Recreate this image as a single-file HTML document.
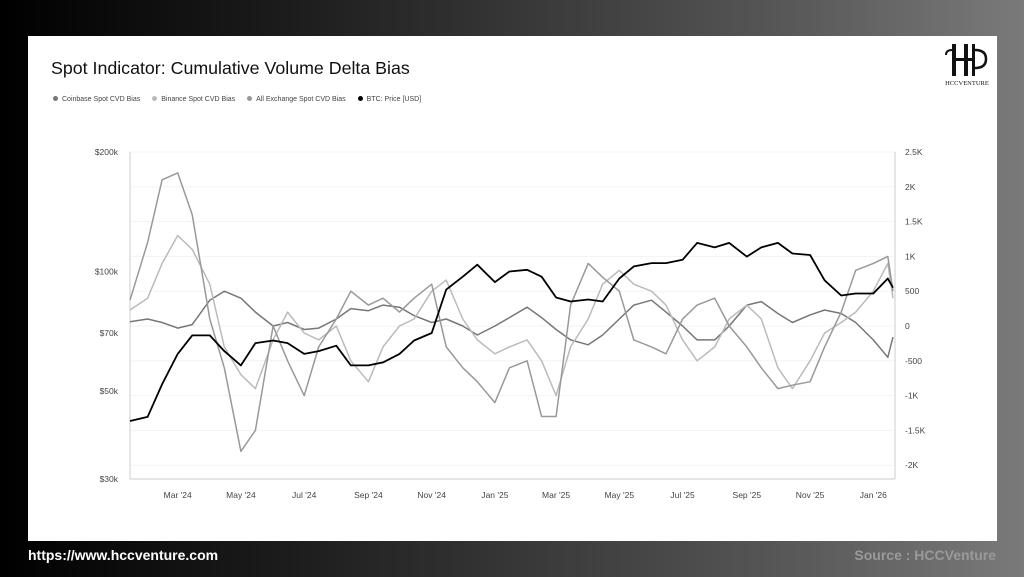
<!DOCTYPE html>
<html><head><meta charset="utf-8">
<style>
html,body{margin:0;padding:0;}
body{width:1024px;height:577px;overflow:hidden;background:linear-gradient(90deg,#000 0%,#1e1e1e 30%,#555 75%,#7a7a7a 100%);font-family:"Liberation Sans",sans-serif;position:relative;}
#card{position:absolute;left:28px;top:36px;width:969px;height:505px;background:#fff;}
#title{position:absolute;left:23px;top:22px;font-size:17.8px;color:#111;}
#legend{position:absolute;left:25px;top:60px;font-size:7px;color:#444;display:flex;gap:12px;}
#legend span i{display:inline-block;width:5px;height:5px;border-radius:50%;margin-right:4px;vertical-align:0px;}
#url{position:absolute;left:28px;top:547px;color:#fff;font-weight:bold;font-size:14px;}
#src{position:absolute;right:28px;top:547px;color:#9a9a9a;font-weight:bold;font-size:14px;}
#logo{position:absolute;left:914px;top:6px;width:50px;height:46px;}
</style></head><body>
<div id="card">
  <div id="title">Spot Indicator: Cumulative Volume Delta Bias</div>
  <div id="legend">
    <span><i style="background:#777"></i>Coinbase Spot CVD Bias</span>
    <span><i style="background:#bbb"></i>Binance Spot CVD Bias</span>
    <span><i style="background:#999"></i>All Exchange Spot CVD Bias</span>
    <span><i style="background:#000"></i>BTC: Price [USD]</span>
  </div>
  <svg id="logo" viewBox="0 0 50 46">
    <rect x="10" y="2" width="4" height="32" fill="#111"/>
    <rect x="22" y="2" width="4" height="32" fill="#111"/>
    <rect x="30" y="2" width="3" height="32" fill="#111"/>
    <rect x="10" y="16" width="23" height="3" fill="#111"/>
    <path d="M33 8 Q44 8 44 17 Q44 26 33 26" fill="none" stroke="#111" stroke-width="2.5"/>
    <path d="M10 8 Q4 8 4 13" fill="none" stroke="#111" stroke-width="2"/>
    <text x="25" y="43" font-size="6.5" text-anchor="middle" font-family="Liberation Serif, serif" fill="#111">HCCVENTURE</text>
  </svg>
</div>
<svg id="chart" width="1024" height="577" style="position:absolute;left:0;top:0"></svg>
<div id="url">https://www.hccventure.com</div>
<div id="src">Source : HCCVenture</div>
<script>
const dates = ["2024-01-15","2024-02-01","2024-02-15","2024-03-01","2024-03-15","2024-04-01","2024-04-15","2024-05-01","2024-05-15","2024-06-01","2024-06-15","2024-07-01","2024-07-15","2024-08-01","2024-08-15","2024-09-01","2024-09-15","2024-10-01","2024-10-15","2024-11-01","2024-11-15","2024-12-01","2024-12-15",
"2025-01-01","2025-01-15","2025-02-01","2025-02-15","2025-03-01","2025-03-15","2025-04-01","2025-04-15","2025-05-01","2025-05-15","2025-06-01","2025-06-15","2025-07-01","2025-07-15","2025-08-01","2025-08-15","2025-09-01","2025-09-15","2025-10-01","2025-10-15","2025-11-01","2025-11-15","2025-12-01","2025-12-15",
"2026-01-01","2026-01-15","2026-01-20"];
const btcPrice = [42,43,52,62,69,69,63,58,66,67,66,62,63,65,58,58,59,62,67,70,90,97,104,
94,100,101,97,86,84,85,84,96,103,105,105,107,118,115,118,109,115,118,111,110,95,87,88,
88,96,91];
const coinbaseCvd = [0.06,0.1,0.05,-0.03,0.02,0.37,0.5,0.4,0.2,0,0.05,-0.05,-0.03,0.1,0.25,0.22,0.3,0.27,0.15,0.05,0.1,0,-0.13,
0,0.12,0.27,0.12,-0.05,-0.2,-0.27,-0.13,0.1,0.3,0.37,0.2,0,-0.2,-0.2,0,0.3,0.35,0.18,0.05,0.16,0.23,0.18,0.05,
-0.2,-0.45,-0.16];
const binanceCvd = [0.23,0.4,0.9,1.3,1.1,0.6,-0.3,-0.7,-0.9,-0.2,0.2,-0.1,-0.2,0,-0.5,-0.8,-0.3,0,0.1,0.5,0.66,0.1,-0.2,
-0.4,-0.3,-0.2,-0.5,-1.0,-0.3,0.1,0.6,0.8,0.6,0.5,0.3,-0.2,-0.5,-0.3,0.1,0.3,0.1,-0.6,-0.9,-0.5,-0.1,0.05,0.2,
0.5,0.9,0.4];
const allExchangeCvd = [0.37,1.2,2.1,2.2,1.6,0.1,-0.6,-1.8,-1.5,0,-0.5,-1.0,-0.3,0.1,0.5,0.3,0.4,0.2,0.4,0.6,-0.3,-0.6,-0.8,
-1.1,-0.6,-0.5,-1.3,-1.3,0.3,0.9,0.7,0.5,-0.2,-0.3,-0.4,0.1,0.3,0.4,0.0,-0.3,-0.6,-0.9,-0.85,-0.8,-0.3,0.2,0.8,
0.9,1.0,0.5];
const leftTicks = [30,50,70,100,200];
const leftTickLabels = ["$30k","$50k","$70k","$100k","$200k"];
const rightTicks = [-2,-1.5,-1,-0.5,0,0.5,1,1.5,2,2.5];
const rightTickLabels = ["-2K","-1.5K","-1K","-500","0","500","1K","1.5K","2K","2.5K"];
const xTickDates = ["2024-03-01","2024-05-01","2024-07-01","2024-09-01","2024-11-01","2025-01-01","2025-03-01","2025-05-01","2025-07-01","2025-09-01","2025-11-01","2026-01-01"];
const xTickLabels = ["Mar '24","May '24","Jul '24","Sep '24","Nov '24","Jan '25","Mar '25","May '25","Jul '25","Sep '25","Nov '25","Jan '26"];

const NS="http://www.w3.org/2000/svg";
const svg=document.getElementById('chart');
const X0=130,X1=893,YT=152,YB=479;
const t0=Date.parse("2024-01-15"),t1=Date.parse("2026-01-20");
const xs=d=>X0+(Date.parse(d)-t0)/(t1-t0)*(X1-X0);
const yL=v=>YT+Math.log(200/v)/Math.log(200/30)*(YB-YT);
const yR=v=>326-v*69.6;
function mk(tag,attrs){const e=document.createElementNS(NS,tag);for(const k in attrs)e.setAttribute(k,attrs[k]);svg.appendChild(e);return e;}
rightTicks.forEach((v,i)=>{
  const g=mk('line',{x1:X0,x2:X1+2,y1:yR(v),y2:yR(v),stroke:'#f3f3f3','stroke-width':1});
  
  
  const t=mk('text',{x:905,y:yR(v)+3,'font-size':8.5,fill:'#444','font-family':'Liberation Sans, sans-serif'});
  t.textContent=rightTickLabels[i];
  
  
});
leftTicks.forEach((v,i)=>{
  const t=mk('text',{x:118,y:yL(v)+3,'font-size':8.5,fill:'#444','text-anchor':'end','font-family':'Liberation Sans, sans-serif'});
  t.textContent=leftTickLabels[i];
  
  
});
xTickDates.forEach((d,i)=>{
  const t=mk('text',{x:xs(d),y:498,'font-size':8.5,fill:'#444','text-anchor':'middle','font-family':'Liberation Sans, sans-serif'});
  t.textContent=xTickLabels[i];
  
  
});
let a=mk('line',{x1:X0,x2:X0,y1:YT,y2:YB,stroke:'#ccc'});


a=mk('line',{x1:X1+2,x2:X1+2,y1:YT,y2:YB,stroke:'#ccc'});


a=mk('line',{x1:X0,x2:X1+2,y1:YB,y2:YB,stroke:'#ccc'});


function series(vals,yf,color,w,name){
  const d=vals.map((v,i)=>(i?'L':'M')+xs(dates[i]).toFixed(1)+' '+yf(v).toFixed(1)).join(' ');
  const p=mk('path',{d:d,fill:'none',stroke:color,'stroke-width':w,'stroke-linejoin':'round'});
  
  
}
series(coinbaseCvd,yR,'#777',1.5,'coinbase-cvd-line');
series(binanceCvd,yR,'#bbb',1.5,'binance-cvd-line');
series(allExchangeCvd,yR,'#999',1.5,'all-exchange-cvd-line');
series(btcPrice,yL,'#000',1.8,'btc-price-line');
</script>
</body></html>
